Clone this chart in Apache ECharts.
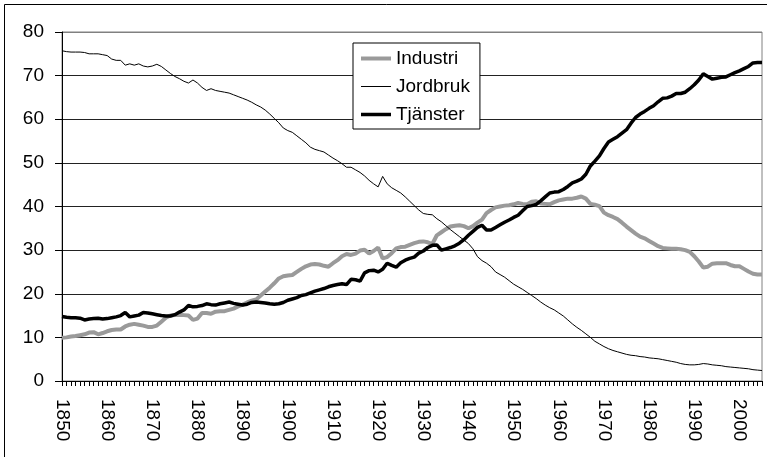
<!DOCTYPE html>
<html>
<head>
<meta charset="utf-8">
<script src="https://cdn.jsdelivr.net/npm/echarts@6/dist/echarts.min.js"></script>
<style>
html,body{margin:0;padding:0;background:#fff;}
#chart{width:767px;height:457px;}
</style>
</head>
<body>
<div id="chart"></div>
<script>
// Years 1850..2005
const years = [];
for (let y = 1850; y <= 2005; y++) years.push(String(y));

const seriesNames = ['Industri', 'Jordbruk', 'Tjänster'];

const industri = [9.9,10.0,10.2,10.3,10.5,10.7,11.1,11.2,10.7,11.0,
11.4,11.7,11.8,11.8,12.5,12.9,13.1,12.9,12.7,12.4,
12.4,12.7,13.6,14.5,15.0,15.1,15.2,15.1,15.0,14.0,
14.3,15.6,15.6,15.4,15.9,16.0,16.0,16.3,16.6,17.1,
17.5,18.0,18.4,18.7,19.6,20.5,21.4,22.4,23.5,24.0,
24.2,24.3,25.0,25.7,26.3,26.7,26.8,26.7,26.4,26.2,
27.0,27.7,28.6,29.1,28.9,29.2,29.9,30.1,29.2,29.8,
30.6,28.1,28.4,29.3,30.4,30.7,30.8,31.2,31.6,31.9,
32.0,31.8,31.4,33.4,34.1,34.8,35.4,35.6,35.7,35.5,
35.0,35.5,36.3,37.0,38.5,39.2,39.8,40.0,40.2,40.3,
40.5,40.8,40.6,40.5,41.1,41.2,40.7,40.6,40.5,41.0,
41.4,41.6,41.8,41.8,42.0,42.3,41.8,40.6,40.4,40.1,
38.6,38.0,37.6,37.1,36.3,35.4,34.6,33.8,33.1,32.7,
32.1,31.5,30.9,30.5,30.4,30.3,30.3,30.2,30.0,29.6,
28.6,27.4,26.0,26.2,26.9,27.0,27.0,27.0,26.6,26.3,
26.3,25.7,25.1,24.6,24.4,24.4];

const jordbruk = [75.7,75.5,75.4,75.4,75.4,75.3,75.0,75.0,75.0,74.8,
74.6,73.8,73.5,73.5,72.4,72.7,72.4,72.7,72.2,72.0,
72.2,72.6,72.1,71.3,70.5,69.8,69.3,68.7,68.3,69.0,
68.3,67.3,66.6,67.0,66.6,66.4,66.2,66.0,65.6,65.2,
64.8,64.4,63.9,63.3,62.8,62.1,61.2,60.2,59.2,58.0,
57.4,57.0,56.2,55.4,54.6,53.6,53.1,52.8,52.5,51.8,
51.1,50.5,49.8,49.0,49.0,48.4,47.8,47.0,46.0,45.2,
44.5,46.9,45.2,44.3,43.7,43.1,42.2,41.2,40.2,39.2,
38.4,38.2,38.1,37.2,36.5,35.6,34.7,33.9,33.1,32.3,
31.5,30.3,28.5,27.6,27.0,26.2,25.0,24.4,23.8,23.0,
22.2,21.6,21.0,20.3,19.6,18.9,18.1,17.4,16.8,16.3,
15.6,14.9,14.0,13.1,12.3,11.6,10.8,10.0,9.1,8.5,
7.9,7.4,7.0,6.7,6.4,6.1,5.9,5.8,5.6,5.5,
5.3,5.2,5.1,4.9,4.7,4.5,4.3,4.0,3.8,3.7,
3.7,3.8,4.0,3.9,3.7,3.6,3.5,3.3,3.2,3.1,
3.0,2.9,2.8,2.6,2.5,2.4];

const tjanster = [14.8,14.6,14.5,14.5,14.4,14.0,14.2,14.3,14.4,14.2,
14.3,14.5,14.7,15.0,15.7,14.7,14.9,15.1,15.7,15.6,
15.4,15.2,15.0,14.9,14.9,15.2,15.8,16.3,17.3,17.0,
17.1,17.3,17.7,17.5,17.4,17.7,17.9,18.1,17.8,17.6,
17.4,17.6,18.0,18.1,18.0,17.9,17.7,17.6,17.7,18.0,
18.5,18.8,19.1,19.6,19.8,20.2,20.6,20.9,21.2,21.6,
21.9,22.1,22.3,22.1,23.3,23.2,22.9,24.8,25.3,25.4,
25.0,25.6,27.0,26.5,26.1,27.1,27.7,28.1,28.4,29.3,
29.8,30.6,31.1,31.2,30.0,30.3,30.6,31.0,31.6,32.4,
33.4,34.3,35.2,35.7,34.6,34.6,35.2,35.8,36.4,36.9,
37.5,38.0,39.0,40.0,40.2,40.5,41.3,42.2,43.1,43.3,
43.4,43.9,44.6,45.4,45.8,46.3,47.4,49.3,50.4,51.6,
53.3,54.8,55.4,56.0,56.8,57.6,59.1,60.4,61.2,61.8,
62.5,63.1,64.0,64.8,64.9,65.3,65.9,65.9,66.2,67.0,
67.9,69.0,70.4,69.8,69.2,69.4,69.6,69.7,70.2,70.7,
71.1,71.6,72.1,72.9,73.0,73.0];

const FONT = '"Liberation Sans", Arial, sans-serif';
const styles = {
  'Industri': {color: '#9a9a9a', width: 4},
  'Jordbruk': {color: '#000000', width: 1},
  'Tjänster': {color: '#000000', width: 3.5}
};

const chart = echarts.init(document.getElementById('chart'), null, {renderer: 'canvas'});
chart.setOption({
  animation: false,
  backgroundColor: '#ffffff',
  textStyle: {fontFamily: FONT},
  graphic: [{
    type: 'rect',
    shape: {x: 4.5, y: 4.5, width: 900, height: 900},
    style: {fill: null, stroke: '#000', lineWidth: 1},
    z: -1
  }],
  grid: {
    left: 62, right: 5, top: 32, bottom: 76,
    show: true, borderColor: '#808080', borderWidth: 1, backgroundColor: 'transparent'
  },
  legend: {
    orient: 'vertical',
    left: 353, top: 43,
    data: seriesNames.map(n => ({
      name: n,
      itemStyle: {opacity: 0},
      lineStyle: {color: styles[n].color, width: styles[n].width}
    })),
    itemWidth: 30, itemHeight: 14, itemGap: 9,
    padding: [6, 10, 5, 6],
    backgroundColor: '#fff',
    borderColor: '#000', borderWidth: 1,
    textStyle: {fontFamily: FONT, fontSize: 19, color: '#000'}
  },
  xAxis: {
    type: 'category',
    data: years,
    boundaryGap: false,
    axisLine: {lineStyle: {color: '#000', width: 1}},
    axisTick: {show: true, interval: 0, length: 5, lineStyle: {color: '#000'}},
    axisLabel: {interval: 9, rotate: -90, margin: 18, fontSize: 19, color: '#000', fontFamily: FONT},
    splitLine: {show: false}
  },
  yAxis: {
    type: 'value',
    min: 0, max: 80, interval: 10,
    axisLine: {show: true, lineStyle: {color: '#000', width: 1}},
    axisTick: {show: true, length: 7, lineStyle: {color: '#000'}},
    axisLabel: {fontSize: 19, color: '#000', margin: 18, fontFamily: FONT},
    splitLine: {show: true, lineStyle: {color: ['#222','#222','#222','#222','#222','#222','#222','#222','#808080'], width: 1}}
  },
  series: [
    {name: 'Industri', type: 'line', data: industri, symbol: 'none',
     lineStyle: styles['Industri'], itemStyle: {color: styles['Industri'].color}},
    {name: 'Jordbruk', type: 'line', data: jordbruk, symbol: 'none',
     lineStyle: styles['Jordbruk'], itemStyle: {color: styles['Jordbruk'].color}},
    {name: 'Tjänster', type: 'line', data: tjanster, symbol: 'none',
     lineStyle: styles['Tjänster'], itemStyle: {color: styles['Tjänster'].color}}
  ]
});
</script>
</body>
</html>
